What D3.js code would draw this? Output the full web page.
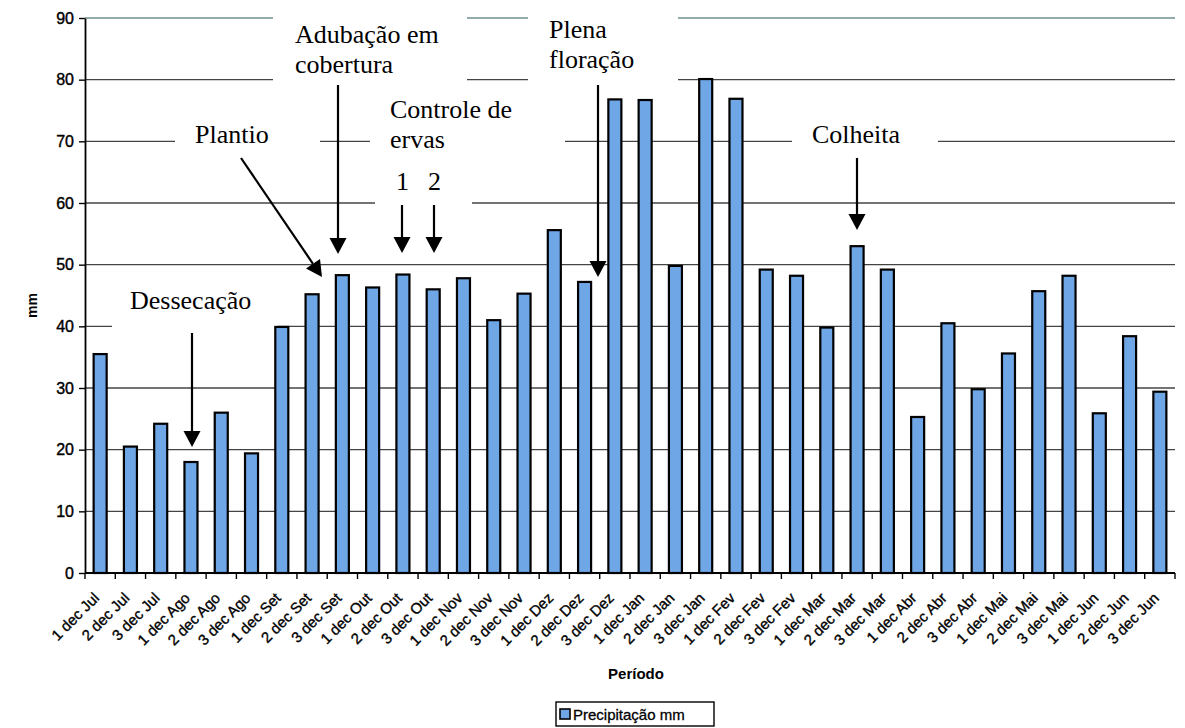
<!DOCTYPE html>
<html><head><meta charset="utf-8">
<script src="https://cdn.jsdelivr.net/npm/d3@7"></script>
<style>body{margin:0;background:#fff}svg{display:block}</style>
</head><body>
<svg id="c" width="1185" height="728"></svg>
<script>
const categories = ["1 dec Jul","2 dec Jul","3 dec Jul","1 dec Ago","2 dec Ago","3 dec Ago","1 dec Set","2 dec Set","3 dec Set","1 dec Out","2 dec Out","3 dec Out","1 dec Nov","2 dec Nov","3 dec Nov","1 dec Dez","2 dec Dez","3 dec Dez","1 dec Jan","2 dec Jan","3 dec Jan","1 dec Fev","2 dec Fev","3 dec Fev","1 dec Mar","2 dec Mar","3 dec Mar","1 dec Abr","2 dec Abr","3 dec Abr","1 dec Mai","2 dec Mai","3 dec Mai","1 dec Jun","2 dec Jun","3 dec Jun"];
const precipitacao = [35.5,20.5,24.2,18.0,26.0,19.4,39.9,45.2,48.3,46.3,48.4,46.0,47.8,41.0,45.3,55.6,47.2,76.8,76.7,49.8,80.1,76.9,49.2,48.2,39.8,53.0,49.2,25.3,40.5,29.8,35.6,45.7,48.2,25.9,38.4,29.4];
const yTicks = [0,10,20,30,40,50,60,70,80,90];
const seriesName = "Precipitação mm";
const yLabel = "mm";
const xLabel = "Período";

const svg = d3.select("#c");
const L = 85, R = 1175, T = 18, B = 573;
const x = d3.scaleBand().domain(categories).range([L, R]).padding(0);
const y = d3.scaleLinear().domain([0, 90]).range([B, T]);
const sans = "'Liberation Sans', Arial, sans-serif";
const serif = "'Liberation Serif', 'Times New Roman', serif";
const barFill = "#6fa7e6";

// gridlines
svg.append("g").selectAll("line").data(yTicks.filter(d => d > 0)).join("line")
  .attr("x1", L).attr("x2", R).attr("y1", d => y(d)).attr("y2", d => y(d))
  .attr("stroke", d => d === 90 ? "#6f8f8f" : "#444").attr("stroke-width", 1.4);

// y axis
const yAxis = d3.axisLeft(y).tickValues(yTicks).tickSize(6).tickSizeOuter(0);
const gy = svg.append("g").attr("transform", `translate(${L},0)`).call(yAxis);
gy.select(".domain").attr("stroke", "#000").attr("stroke-width", 1.8);
gy.selectAll(".tick line").attr("stroke", "#000").attr("stroke-width", 1.4);
gy.selectAll(".tick text").attr("font-family", sans).attr("font-size", 16).attr("fill", "#000")
  .attr("stroke", "#000").attr("stroke-width", 0.4).attr("x", -11);

// annotation backgrounds (break gridlines)
const bgs = [
  [175, 120, 145, 40],   // Plantio
  [273, 8, 194, 76],     // Adubação
  [370, 90, 195, 70],    // Controle
  [375, 160, 97, 50],    // 1 2
  [528, 8, 150, 76],     // Plena
  [792, 122, 146, 36],   // Colheita
  [112, 290, 165, 40]    // Dessecação
];
svg.append("g").selectAll("rect").data(bgs).join("rect")
  .attr("x", d => d[0]).attr("y", d => d[1]).attr("width", d => d[2]).attr("height", d => d[3])
  .attr("fill", "#fff");

// bars
const bw = x.step() * 0.43;
svg.append("g").selectAll("rect").data(precipitacao).join("rect")
  .attr("x", (d, i) => x(categories[i]) + x.bandwidth() / 2 - bw / 2)
  .attr("y", d => y(d))
  .attr("width", bw)
  .attr("height", d => y(0) - y(d))
  .attr("fill", barFill)
  .attr("stroke", "#000").attr("stroke-width", 2.2);

// x axis
svg.append("line").attr("x1", L).attr("x2", R).attr("y1", B).attr("y2", B)
  .attr("stroke", "#000").attr("stroke-width", 1.8);
svg.append("g").selectAll("line").data(d3.range(categories.length + 1)).join("line")
  .attr("x1", i => L + i * x.step()).attr("x2", i => L + i * x.step())
  .attr("y1", B).attr("y2", B + 6).attr("stroke", "#000").attr("stroke-width", 1.4);
svg.append("g").selectAll("text").data(categories).join("text")
  .attr("transform", d => `translate(${x(d) + x.bandwidth() / 2},${B + 26}) rotate(-45)`)
  .attr("text-anchor", "end")
  .attr("font-family", sans).attr("font-size", 15)
  .attr("stroke", "#000").attr("stroke-width", 0.35).text(d => d);

// axis titles
svg.append("text").attr("transform", `translate(37,${(T + B) / 2 + 10}) rotate(-90)`)
  .attr("text-anchor", "middle").attr("font-family", sans).attr("font-weight", "bold")
  .attr("font-size", 14).text(yLabel);
svg.append("text").attr("x", 636).attr("y", 679).attr("text-anchor", "middle")
  .attr("font-family", sans).attr("font-weight", "bold").attr("font-size", 15).text(xLabel);

// legend
const lg = svg.append("g");
lg.append("rect").attr("x", 556).attr("y", 702).attr("width", 158).attr("height", 24)
  .attr("fill", "#fff").attr("stroke", "#000").attr("stroke-width", 1.4);
lg.append("rect").attr("x", 560).attr("y", 709).attr("width", 10).attr("height", 10)
  .attr("fill", barFill).attr("stroke", "#000").attr("stroke-width", 1.6);
lg.append("text").attr("x", 573).attr("y", 720).attr("font-family", sans).attr("font-size", 15)
  .attr("stroke", "#000").attr("stroke-width", 0.3).text(seriesName);

// annotations
const ann = svg.append("g").attr("font-family", serif).attr("font-size", 26).attr("fill", "#000");
const texts = [
  ["Adubação em", 295, 43], ["cobertura", 295, 73],
  ["Plantio", 195, 143],
  ["Controle de", 390, 118], ["ervas", 390, 148],
  ["1", 396, 190], ["2", 428, 190],
  ["Plena", 549, 38], ["floração", 549, 68],
  ["Colheita", 812, 143],
  ["Dessecação", 130, 309]
];
ann.selectAll("text").data(texts).join("text")
  .attr("x", d => d[1]).attr("y", d => d[2]).text(d => d[0]);

const arrows = [
  [338, 85, 338, 254], [241, 158, 322, 277], [402, 205, 402, 253], [434, 205, 434, 253],
  [598, 85, 598, 277], [857, 158, 857, 230], [192, 333, 192, 447]
];
const ag = svg.append("g");
arrows.forEach(([x1, y1, x2, y2]) => {
  const ang = Math.atan2(y2 - y1, x2 - x1);
  const hl = 16, hw = 8.5;
  const bx = x2 - hl * Math.cos(ang), by = y2 - hl * Math.sin(ang);
  ag.append("line").attr("x1", x1).attr("y1", y1).attr("x2", bx).attr("y2", by)
    .attr("stroke", "#000").attr("stroke-width", 2.2);
  const px = -Math.sin(ang) * hw, py = Math.cos(ang) * hw;
  ag.append("path").attr("d", `M${x2},${y2}L${bx + px},${by + py}L${bx - px},${by - py}Z`).attr("fill", "#000");
});
</script>
</body></html>
